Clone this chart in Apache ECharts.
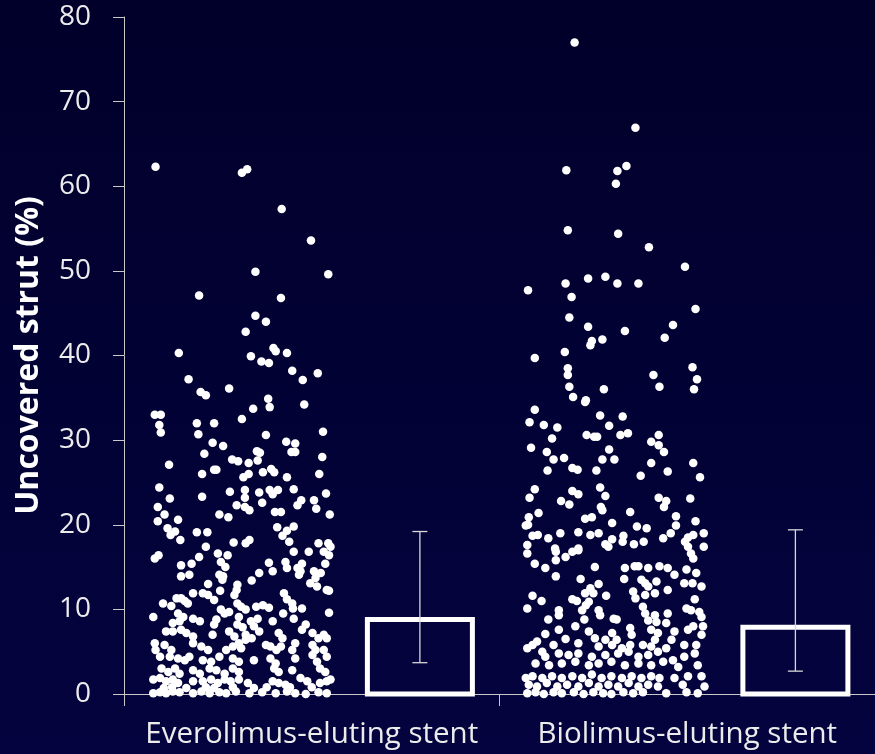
<!DOCTYPE html>
<html>
<head>
<meta charset="utf-8">
<script src="https://cdn.jsdelivr.net/npm/echarts@6/dist/echarts.min.js"></script>
<style>
html,body{margin:0;padding:0;background:#02012c;}
#chart{width:875px;height:754px;}
</style>
</head>
<body>
<div id="chart"></div>
<script>
// ---------------- DATA ----------------
const categories = ['Everolimus-eluting stent', 'Biolimus-eluting stent'];
const yMin = 0, yMax = 80, yInterval = 10;

// [jitter position, uncovered strut %]
const everolimusPoints = [
[4.2,62.3],[15.7,61.6],[16.4,62.0],[21.0,57.3],[24.9,53.6],[17.5,49.9],[27.2,49.6],[10.0,47.1],[20.9,46.8],[17.5,44.7],
[18.9,44.0],[16.2,42.8],[7.3,40.3],[16.9,39.9],[19.9,40.9],[20.2,40.5],[21.7,40.3],[18.3,39.3],[19.3,39.1],[22.4,38.2],
[25.8,37.9],[23.8,37.1],[8.6,37.2],[14.0,36.1],[10.2,35.7],[10.9,35.3],[19.2,34.9],
[19.4,33.9],[24.0,34.2],[17.2,33.7],[4.1,33.0],[4.9,33.0],[4.7,31.8],[4.9,30.9],[9.7,32.0],[9.9,30.7],[12.0,32.0],
[15.7,32.5],[18.9,30.6],[26.5,31.0],[11.8,29.7],[13.2,29.3],[21.6,29.8],[22.8,29.6],[22.3,28.6],[22.8,28.6],[17.7,28.7],
[18.1,28.5],[17.8,27.6],[10.7,28.4],[14.4,27.7],[15.2,27.5],[16.6,27.3],[6.0,27.1],[26.4,28.0],[10.4,26.0],[12.0,26.5],
[12.3,26.5],[15.9,25.6],[16.6,26.0],[18.5,26.2],[19.6,26.6],[20.0,26.2],[21.7,25.6],[26.0,26.0],[4.7,24.4],[6.1,23.1],
[10.4,23.3],[14.1,23.9],[16.1,24.1],[16.1,23.2],[18.0,23.8],[19.4,24.1],[19.8,23.6],[20.5,24.1],[22.6,24.2],[26.9,23.7],
[25.3,22.9],[23.6,22.9],[23.1,22.3],[18.4,22.6],[15.0,22.3],[16.1,22.1],[16.7,21.7],[4.5,22.1],[5.4,21.2],[4.5,20.4],
[7.2,20.6],[12.7,21.2],[13.9,20.9],[20.1,21.5],[20.9,21.5],[25.6,21.9],[27.4,21.2],[5.8,19.6],[6.2,18.8],[6.8,19.2],
[7.5,18.2],[9.7,19.1],[11.1,19.1],[20.4,19.7],[21.7,19.3],[22.6,19.8],[21.1,18.7],[16.7,18.2],[16.2,17.8],[14.6,17.9],
[10.9,17.4],[22.0,18.0],[25.9,17.8],[27.2,17.8],[27.5,17.4],
[4.1,16.0],[4.6,16.4],[7.6,15.2],[9.0,15.4],[10.0,16.2],[12.5,16.6],[12.9,15.6],[13.8,16.4],[13.5,15.0],[19.3,15.5],
[21.5,15.6],[21.7,14.9],[23.1,14.9],[23.7,15.4],[22.6,16.8],[24.6,16.8],[26.6,16.8],[27.3,16.4],[26.8,15.4],[7.6,13.9],
[8.7,14.1],[12.7,14.1],[13.2,13.9],[13.1,13.5],[18.0,14.3],[19.8,14.5],[17.0,13.4],[23.3,14.1],[23.5,14.5],[25.3,14.5],
[25.5,13.7],[26.2,14.3],[24.8,13.1],[25.7,12.7],[27.0,12.3],[27.3,12.2],[11.2,13.0],[15.1,12.9],[15.0,12.3],[14.7,11.7],
[12.8,12.2],[9.2,11.9],[10.5,11.9],[11.2,11.7],[12.0,11.1],[5.2,10.7],[6.3,10.4],[7.0,11.3],[7.6,11.3],[8.1,11.0],
[8.5,10.7],[3.9,9.1],[21.3,11.9],[21.7,11.2],[22.4,10.7],[22.5,10.1],[23.7,10.1],[17.6,10.3],[18.5,10.5],[19.3,10.2],
[15.1,10.7],[15.6,10.3],[16.2,10.0],[12.9,10.0],[13.4,9.5],[14.0,9.7],[27.3,9.6],[21.2,9.5],[7.2,9.5],[7.9,9.1],
[7.4,8.6],[6.5,8.4],[9.2,8.9],[10.1,8.6],[12.3,8.8],[12.0,8.2],[15.3,9.1],[15.1,8.2],[15.8,7.9],[16.9,8.6],
[17.8,8.9],[17.3,8.0],[18.0,7.4],[19.8,8.6],[22.6,8.9],[24.2,8.2],[23.7,7.6],[5.6,7.4],[6.5,7.4],[7.6,7.6],
[8.3,7.2],[9.2,6.8],[11.8,7.0],[14.0,7.4],[14.7,6.8],[16.2,7.0],[17.0,6.6],[20.6,7.2],[21.1,6.6],[25.1,7.2],
[25.9,6.6],[26.6,7.0],[27.0,6.6],[4.1,6.0],[5.4,5.8],[6.3,5.2],[4.2,5.2],[9.2,6.0],[10.3,5.6],[11.2,5.2],
[13.6,5.2],[14.5,5.6],[15.3,6.0],[16.2,6.4],[15.6,5.4],[18.9,5.8],[19.5,5.6],[20.3,5.2],[20.9,5.6],[22.8,6.0],
[22.4,5.2],[25.1,5.8],[25.5,5.2],[26.6,5.2],[4.8,4.4],[6.1,4.4],[7.2,4.2],[8.1,4.0],[8.7,4.4],[10.5,4.0],
[11.6,3.8],[12.7,4.4],[14.5,4.2],[15.3,3.8],[17.3,4.0],[19.5,4.2],[20.2,3.6],[22.8,4.2],[25.1,4.6],[25.7,3.8],
[27.0,4.4],[5.0,3.0],[5.9,2.6],[6.8,3.0],[7.4,2.4],[9.2,2.8],[10.1,2.4],[11.4,3.0],[12.3,2.8],[13.4,2.4],
[14.5,3.0],[15.3,2.6],[20.0,3.0],[20.6,2.6],[22.4,2.8],[26.1,3.0],[26.8,2.6],[3.9,1.7],[4.8,1.9],[5.6,1.5],
[6.5,1.7],[7.2,1.3],[9.2,1.5],[10.5,1.5],[11.6,1.7],[12.5,1.3],[13.4,1.7],[14.2,1.5],[15.3,1.7],[16.5,1.3],
[19.8,1.5],[20.6,1.3],[21.5,1.1],[23.5,1.9],[24.4,1.5],[26.1,1.3],[27.0,1.5],[27.5,1.7],
[5.3,0.7],[6.4,0.8],[8.3,0.7],[10.9,0.8],[12.0,0.7],[14.5,0.8],[17.3,0.7],[19.0,0.8],[22.1,0.8],[25.0,0.8],
[3.9,0.1],[4.8,0.2],[5.6,0.1],[6.5,0.3],[7.4,0.2],[9.2,0.1],[10.3,0.3],[11.4,0.1],[12.7,0.2],[13.6,0.1],
[14.9,0.3],[16.7,0.1],[18.4,0.2],[20.2,0.1],[21.7,0.3],[22.8,0.1],[24.2,0.0],[25.9,0.2],[27.0,0.1]
];

const biolimusPoints = [
[60.0,77.0],[68.1,66.9],[58.9,61.9],[65.7,61.8],[66.9,62.4],[65.5,60.3],[59.1,54.8],[65.8,54.4],[69.9,52.8],[74.7,50.5],
[53.8,47.7],[58.8,48.5],[61.8,49.1],[64.1,49.3],[65.7,48.5],[68.5,48.5],[59.6,46.9],[76.1,45.5],[59.3,44.5],[61.8,43.4],
[66.7,42.9],[73.1,43.6],[72.0,42.1],[62.3,41.7],[62.1,41.2],[63.7,41.9],[58.7,40.4],[54.7,39.7],[59.1,38.5],[59.1,37.7],
[59.3,36.3],[59.8,35.1],[61.5,34.7],[63.9,36.0],[70.5,37.7],[71.3,36.3],[75.7,38.6],[76.3,37.2],[75.9,36.0],
[61.4,34.5],[54.7,33.6],[54.0,32.1],[55.9,31.8],[57.7,31.5],[57.0,30.2],[63.4,32.9],[66.4,32.8],[64.6,31.7],[61.6,30.6],
[62.6,30.4],[63.0,30.4],[66.1,30.6],[67.1,30.8],[71.2,30.6],[70.2,29.8],[71.2,29.4],[71.9,28.6],[54.2,29.1],[56.3,28.6],
[57.2,27.7],[58.6,27.9],[64.6,28.9],[63.7,27.7],[65.3,27.7],[59.7,26.7],[60.4,26.5],[56.4,26.4],[62.9,26.4],[70.2,27.3],
[72.4,26.3],[68.8,25.8],[75.8,27.3],[76.7,25.6],[54.7,24.2],[54.0,23.2],[59.7,24.0],[60.5,23.6],[63.4,24.4],[64.1,23.4],
[58.2,22.8],[59.3,22.4],[71.2,23.2],[72.2,22.8],[71.9,22.1],[75.4,23.1],[63.5,22.1],[63.7,21.7],[67.4,21.5],[55.2,21.4],
[53.9,20.9],[53.5,19.9],[53.8,20.0],[61.4,20.7],[62.3,20.9],[65.0,20.2],[68.3,19.8],[69.6,19.6],[73.5,21.0],[73.5,19.9],
[76.1,20.4],[54.4,18.7],[55.1,18.8],[56.5,18.4],[58.1,19.0],[60.5,19.1],[62.1,18.8],[63.2,19.0],[65.0,18.3],[66.5,18.7],
[66.4,18.0],[67.9,17.7],[69.2,18.0],[71.8,18.4],[72.8,19.0],[75.1,18.5],[75.8,18.8],[77.2,19.0],[53.7,17.6],[57.4,17.2],
[60.5,17.2],[64.1,17.7],[64.5,17.4],[74.7,18.0],[75.1,17.4],[77.2,17.4],
[53.7,16.6],[57.5,16.8],[58.8,16.2],[59.7,16.8],[60.5,17.0],[75.5,16.6],[75.8,16.0],[54.7,15.4],[56.1,14.9],[57.5,15.8],
[62.7,15.0],[66.7,14.9],[68.0,15.1],[68.5,15.1],[69.8,14.9],[71.3,15.1],[72.4,14.9],[73.3,14.1],[74.9,14.7],[76.2,14.3],
[57.5,13.9],[60.8,13.6],[63.2,13.0],[62.1,12.5],[61.4,11.9],[62.5,11.9],[66.6,13.6],[68.9,13.5],[69.4,13.1],[69.8,12.7],
[70.9,13.3],[74.6,13.1],[75.7,13.1],[76.9,12.7],[72.4,12.3],[67.8,12.1],[68.1,11.3],[69.4,11.7],[70.7,11.9],[64.2,11.6],
[54.4,11.6],[55.6,11.0],[59.7,11.2],[60.3,11.0],[61.9,10.9],[61.5,10.5],[61.0,9.9],[76.0,11.2],[53.7,10.1],[57.9,9.9],
[57.9,9.3],[63.2,9.9],[63.4,9.3],[69.1,10.3],[69.4,9.5],[70.7,9.3],[72.4,9.5],[74.9,10.1],[75.5,9.9],[76.6,9.7],
[76.9,9.1],[56.5,8.8],[61.3,8.8],[65.2,8.9],[65.6,8.8],[69.8,8.7],[70.9,8.5],[72.2,8.4],[67.4,7.8],[67.6,7.0],
[57.9,7.6],[60.1,8.0],[61.9,7.4],[56.1,7.1],[70.2,7.6],[71.1,7.2],[73.3,7.4],[75.1,7.6],[75.8,8.0],[77.1,8.0],
[65.0,7.2],[58.8,6.5],[62.7,6.6],[64.1,6.4],[65.6,6.4],[70.7,6.4],[72.9,6.4],[76.9,7.0],[53.7,5.4],[54.4,5.8],
[55.0,6.2],[57.2,5.8],[60.5,6.0],[63.2,5.6],[65.0,5.8],[66.3,5.4],[67.4,5.8],[69.1,5.8],[70.2,5.6],[72.2,5.4],
[74.6,5.8],[76.2,5.8],[55.7,5.0],[56.1,4.4],[57.9,4.8],[59.2,4.6],[60.5,4.8],[62.3,4.4],[64.1,4.6],[65.8,4.8],
[67.2,5.0],[68.5,4.4],[69.8,4.6],[71.1,5.0],[73.1,4.0],[74.6,4.4],[76.0,4.8],[54.8,3.6],[56.6,3.4],[58.3,3.6],
[60.1,3.8],[61.9,3.4],[63.2,3.6],[64.9,3.8],[66.7,3.4],[68.5,3.6],[70.2,3.4],[71.8,3.8],[73.8,3.2],[76.4,3.4],
[53.5,1.9],[54.4,2.1],[55.7,1.9],[57.0,2.1],[58.3,1.9],[59.7,2.1],[61.0,1.9],[62.3,2.3],[63.6,1.9],[64.9,2.1],
[66.3,1.9],[67.6,2.1],[68.9,1.9],[70.2,2.1],[71.3,1.9],[73.3,1.9],[75.1,2.1],[76.9,2.1],
[53.9,1.1],[55.0,0.9],[56.3,1.3],[57.7,0.9],[59.0,1.1],[60.5,0.9],[61.9,1.3],[63.2,0.9],[64.5,1.1],[65.8,0.9],
[67.2,1.3],[68.5,0.9],[69.8,1.1],[71.1,0.9],[74.4,1.1],[77.3,0.9],
[53.7,0.1],[54.8,0.2],[55.9,0.0],[57.2,0.2],[58.3,0.1],[59.9,0.2],[61.2,0.0],[62.5,0.2],[63.8,0.1],[64.9,0.0],
[66.5,0.2],[67.8,0.1],[69.1,0.2],[72.2,0.1],[74.9,0.2],[76.4,0.1]
];

// summary bar (value) and whisker (low, high) per category
const barValues = [8.8, 7.9];
const whiskerLow = [3.7, 2.7];
const whiskerHigh = [19.2, 19.4];

// ---------------- LAYOUT ----------------
const CAT_SPAN = 50;       // jitter-axis units per category
const BAR_OFFSET = 39.4;   // bar centre within a category (jitter-axis units)
const BAR_PX = 105;        // bar width in px (stroke centre line)
const FONT = '"Open Sans", Lato, sans-serif';

const barData = barValues.map((v, i) => [i * CAT_SPAN + BAR_OFFSET, v]);
const whiskerData = barValues.map((v, i) => [i * CAT_SPAN + BAR_OFFSET, whiskerLow[i], whiskerHigh[i]]);

const chart = echarts.init(document.getElementById('chart'), null, {renderer: 'canvas'});
chart.setOption({
  animation: false,
  backgroundColor: {
    type: 'linear', x: 0, y: 0, x2: 0, y2: 1,
    colorStops: [{offset: 0, color: '#01002a'}, {offset: 1, color: '#04033f'}]
  },
  grid: {left: 124, top: 17, width: 756, height: 677, containLabel: false},
  xAxis: [
    {
      type: 'category', data: categories, position: 'bottom',
      boundaryGap: true,
      axisLine: {show: true, lineStyle: {color: '#c8c8c8', width: 1}},
      axisTick: {show: true, interval: 0, length: 12, lineStyle: {color: '#c8c8c8', width: 1}},
      axisLabel: {color: '#ececec', fontSize: 29.5, fontFamily: FONT, margin: 26, interval: 0},
      splitLine: {show: false}
    },
    {
      type: 'value', min: 0, max: 2 * CAT_SPAN, show: false, position: 'bottom',
      splitLine: {show: false}
    }
  ],
  yAxis: [{
    type: 'value', min: yMin, max: yMax, interval: yInterval,
    name: 'Uncovered strut (%)', nameLocation: 'middle', nameGap: 79,
    nameTextStyle: {color: '#ffffff', fontSize: 32, fontWeight: 'bold', fontFamily: FONT},
    axisLine: {show: true, lineStyle: {color: '#c8c8c8', width: 1}},
    axisTick: {show: true, length: 11, inside: false, lineStyle: {color: '#c8c8c8', width: 1}},
    axisLabel: {color: '#ececec', fontSize: 28, fontFamily: FONT, margin: 33},
    splitLine: {show: false}
  }],
  series: [
    {
      type: 'scatter', xAxisIndex: 1, yAxisIndex: 0,
      data: everolimusPoints, symbol: 'circle', symbolSize: 8.5,
      itemStyle: {color: '#ffffff', opacity: 1}, z: 3
    },
    {
      type: 'scatter', xAxisIndex: 1, yAxisIndex: 0,
      data: biolimusPoints, symbol: 'circle', symbolSize: 8.5,
      itemStyle: {color: '#ffffff', opacity: 1}, z: 3
    },
    {
      type: 'custom', xAxisIndex: 1, yAxisIndex: 0,
      data: barData,
      encode: {x: 0, y: 1},
      z: 2,
      renderItem: function (params, api) {
        const x = api.value(0);
        const top = api.coord([x, api.value(1)]);
        const base = api.coord([x, 0]);
        return {
          type: 'rect',
          shape: {x: top[0] - BAR_PX / 2, y: top[1], width: BAR_PX, height: base[1] - top[1]},
          style: {fill: 'none', stroke: '#ffffff', lineWidth: 5}
        };
      }
    },
    {
      type: 'custom', xAxisIndex: 1, yAxisIndex: 0,
      data: whiskerData,
      encode: {x: 0, y: [1, 2]},
      z: 4,
      renderItem: function (params, api) {
        const x = api.value(0);
        const lo = api.coord([x, api.value(1)]);
        const hi = api.coord([x, api.value(2)]);
        const half = 7.5;
        const st = {stroke: '#d8d8d8', lineWidth: 1.3};
        return {
          type: 'group',
          children: [
            {type: 'line', shape: {x1: lo[0], y1: lo[1], x2: hi[0], y2: hi[1]}, style: st},
            {type: 'line', shape: {x1: lo[0] - half, y1: lo[1], x2: lo[0] + half, y2: lo[1]}, style: st},
            {type: 'line', shape: {x1: hi[0] - half, y1: hi[1], x2: hi[0] + half, y2: hi[1]}, style: st}
          ]
        };
      }
    }
  ]
});
</script>
</body>
</html>
